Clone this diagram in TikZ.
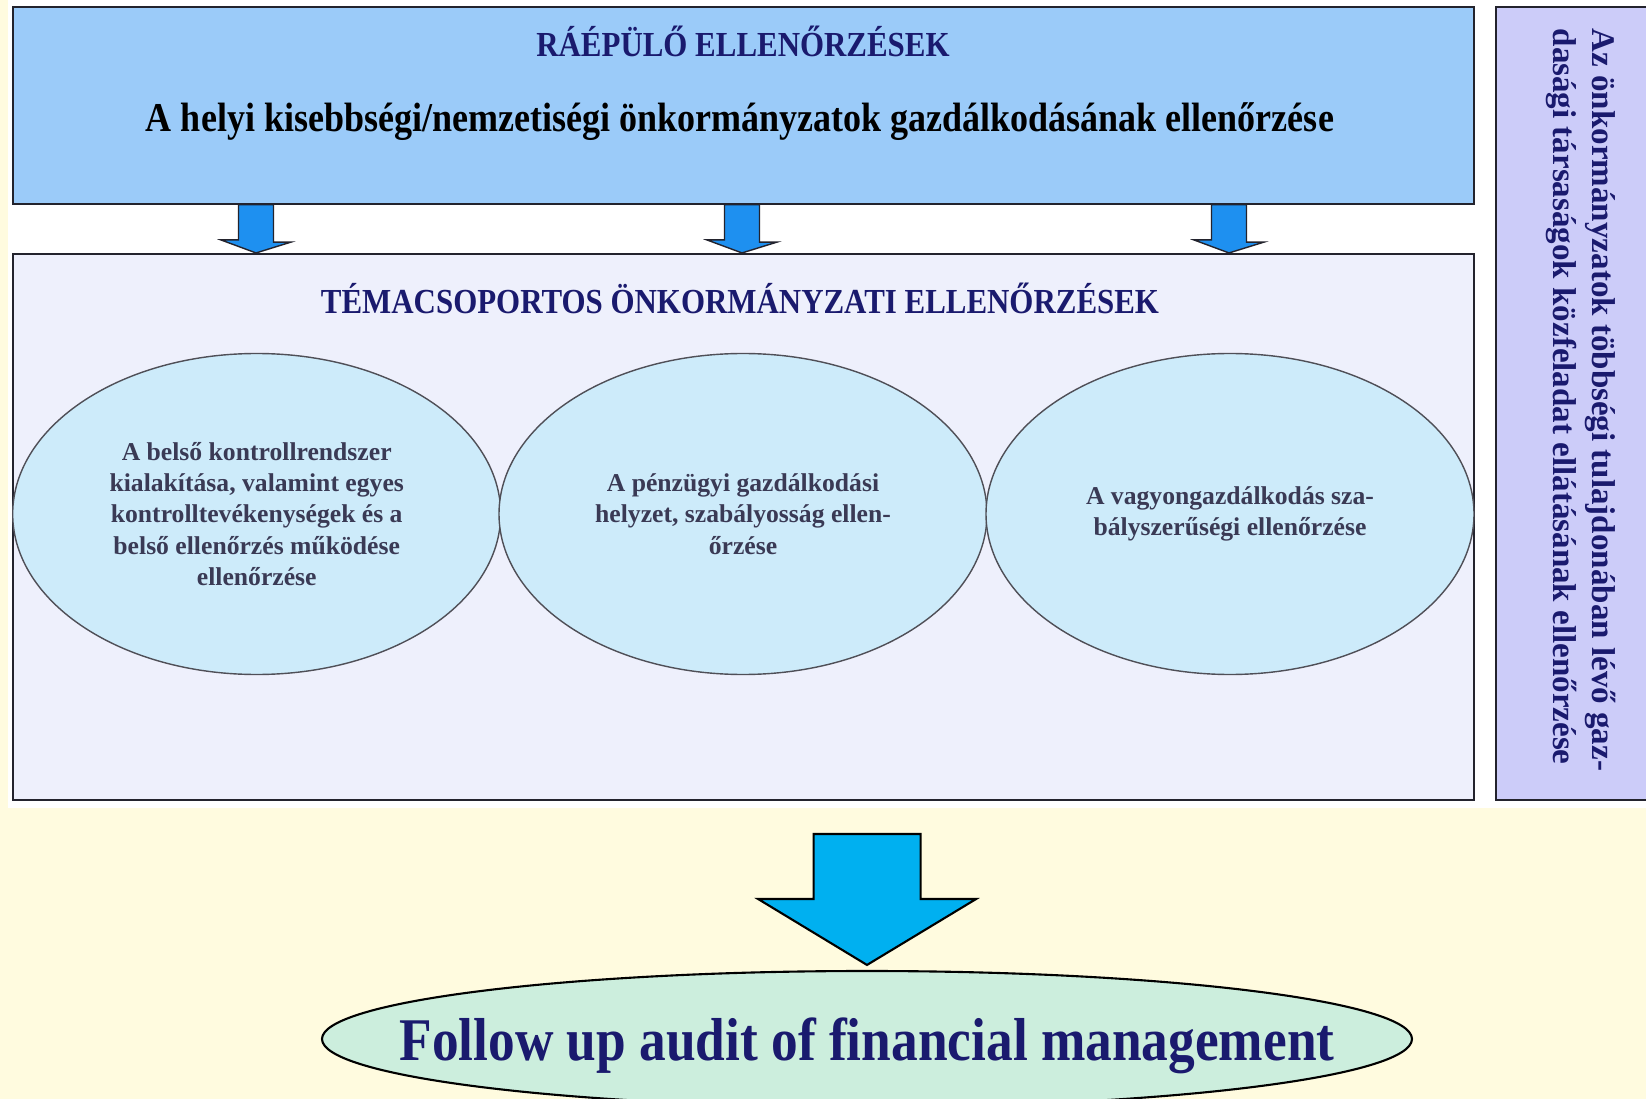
\documentclass[tikz,border=0pt]{standalone}
\usepackage{fontspec}
\setmainfont{Liberation Serif}
\newfontfamily\narrowfont[FakeStretch=0.88]{Liberation Serif}
\usetikzlibrary{shapes.geometric,calc}
\definecolor{paper}{RGB}{255,251,223}
\definecolor{skyfill}{RGB}{155,203,249}
\definecolor{palefill}{RGB}{238,240,252}
\definecolor{lilac}{RGB}{204,204,249}
\definecolor{bubble}{RGB}{205,235,250}
\definecolor{mint}{RGB}{204,238,221}
\definecolor{arrowblue}{RGB}{30,144,240}
\definecolor{cyanblue}{RGB}{0,176,240}
\definecolor{navy}{RGB}{26,26,110}
\definecolor{inktext}{RGB}{58,58,85}
\definecolor{edge}{RGB}{35,35,45}

\begin{document}
\begin{tikzpicture}[x=0.1mm,y=-0.1mm,
  panel/.style={draw=edge,line width=0.6pt,rectangle,inner sep=0pt},
  topic/.style={ellipse,draw=edge!80,line width=0.4pt,fill=bubble,minimum width=48.8mm,
    minimum height=32.1mm,inner sep=0pt,align=center,text=inktext,
    font=\bfseries\fontsize{7.3}{8.9}\selectfont},
  heading/.style={font=\narrowfont\bfseries\fontsize{10}{12}\selectfont,text=navy},
  blockarrow/.style={fill=arrowblue,draw=edge,line width=0.4pt},
]
% page
\fill[paper] (0,0) rectangle (1646,1099);
\fill[white] (8,0) rectangle (1646,808);
\useasboundingbox (0,0) rectangle (1646,1099);

% boxes
\node[panel,fill=skyfill,minimum width=146.12mm,minimum height=19.63mm] (topbox) at (743.2,105.5) {};
\node[panel,fill=palefill,minimum width=146.12mm,minimum height=54.6mm] (midbox) at (743.2,527) {};
\node[panel,fill=lilac,minimum width=15.6mm,minimum height=79.27mm] (sidebox) at (1574,403.6) {};

\node[heading] (raepulo) at (743,41) {RÁÉPÜLŐ ELLENŐRZÉSEK};
\node[font=\narrowfont\bfseries\fontsize{11.65}{14}\selectfont] (helyi) at (740,122)
  {A helyi kisebbségi/nemzetiségi önkormányzatok gazdálkodásának ellenőrzése};
\node[heading] (tema) at (740,298) {TÉMACSOPORTOS ÖNKORMÁNYZATI ELLENŐRZÉSEK};

\node[rotate=-90,anchor=north west,inner sep=0pt,align=left,text=navy,
  font=\bfseries\fontsize{9.4}{11.1}\selectfont] (tobbsegi) at (1616,28)
  {Az önkormányzatok többségi tulajdonában lévő gaz-\\dasági társaságok közfeladat ellátásának ellenőrzése};

% topics
\node[topic] (belso) at (256.7,514) {A belső kontrollrendszer\\kialakítása, valamint egyes\\
  kontrolltevékenységek és a\\belső ellenőrzés működése\\ellenőrzése};
\node[topic] (penzugyi) at (743,514) {A pénzügyi gazdálkodási\\helyzet, szabályosság ellen-\\őrzése};
\node[topic] (vagyon) at (1230,514) {A vagyongazdálkodás sza-\\bályszerűségi ellenőrzése};

% small arrows
\foreach \x in {256,742,1229}
  \draw[blockarrow] (topbox.south -| \x,0) ++(-17.5,0) -- ++(35,0) -- ++(0,37.4) -- ++(17.5,0)
    -- (midbox.north -| \x,0) -- ++(-35,-13) -- ++(17.5,0) -- cycle;

% result
\node[ellipse,draw=black,line width=0.6pt,fill=mint,minimum width=109mm,minimum height=13.6mm,inner sep=0pt,
  label={[text=navy,yshift=-2pt,font=\narrowfont\bfseries\fontsize{17.25}{20}\selectfont]center:Follow up audit of financial management}]
  (result) at (867,1039) {};
\coordinate (bigtip) at ($(result.north)+(0,-5)$);
\draw[fill=cyanblue,draw=black,line width=0.6pt] (bigtip) -- ++(-109,-66) -- ++(55.6,0) -- ++(0,-65)
  -- ++(107,0) -- ++(0,65) -- ++(55.6,0) -- cycle;
\end{tikzpicture}
\end{document}
